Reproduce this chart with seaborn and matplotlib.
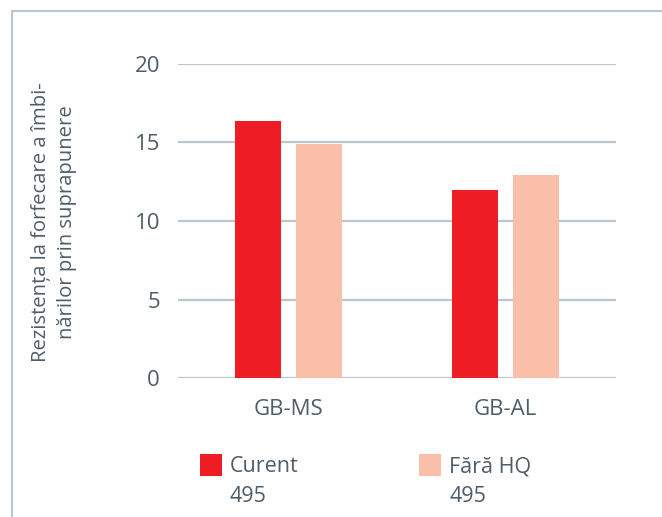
import matplotlib
matplotlib.use("Agg")
import matplotlib.pyplot as plt
import seaborn as sns
import pandas as pd
from matplotlib.patches import Rectangle
from matplotlib.lines import Line2D

categories = ["GB-MS", "GB-AL"]
series_names = ["Curent", "Fără HQ"]
series_counts = ["495", "495"]
curent = [16.4, 12.0]
fara_hq = [14.9, 12.9]
yticks = [0, 5, 10, 15, 20]
ylabel = "Rezistența la forfecare a îmbi-\nnărilor prin suprapunere"

colors = ["#ee1c25", "#f9bfa8"]
text_color = "#4e5d68"
grid_color = "#bcc6ce"

df = pd.DataFrame({
    "cat": categories * 2,
    "series": [series_names[0]] * 2 + [series_names[1]] * 2,
    "value": curent + fara_hq,
})

sns.set_theme(style="white")
plt.rcParams["font.family"] = ["Open Sans", "DejaVu Sans"]

W, H = 662, 517
fig = plt.figure(figsize=(W / 100, H / 100), dpi=100)
ax = fig.add_axes([178 / W, 1 - 378 / H, (616 - 178) / W, (378 - 64) / H])

sns.barplot(data=df, x="cat", y="value", hue="series", order=categories,
            hue_order=series_names, palette=colors, width=0.565, gap=0.245,
            saturation=1, legend=False, ax=ax, zorder=3, linewidth=0)

ax.set_xlim(-0.512, 1.512)
ax.set_ylim(0, 20)
ax.set_yticks(yticks)
ax.set_yticklabels([str(t) for t in yticks])
ax.yaxis.grid(True, color=grid_color, linewidth=1.6, zorder=0)
ax.set_axisbelow(True)
for s in ax.spines.values():
    s.set_visible(False)
ax.tick_params(axis="both", length=0, labelsize=16, labelcolor=text_color)
ax.tick_params(axis="y", pad=13)
ax.tick_params(axis="x", pad=15)
ax.set_xlabel("")
ax.set_ylabel("")

fig.text(54 / W, 1 - 222 / H, ylabel, rotation=90, ha="center", va="center",
         multialignment="center", fontsize=14.6, color=text_color,
         linespacing=1.45)

# frame lines
fig.add_artist(Line2D([11.5 / W, 11.5 / W], [0, 1 - 11 / H], color="#b8c7d3",
                      linewidth=1.5, transform=fig.transFigure))
fig.add_artist(Line2D([11.5 / W, 1], [1 - 11 / H, 1 - 11 / H], color="#b8c7d3",
                      linewidth=1.5, transform=fig.transFigure))

# legend
leg_x = [200, 419]
for i, name in enumerate(series_names):
    x0 = leg_x[i]
    fig.add_artist(Rectangle((x0 / W, 1 - 476 / H), 22 / W, 22 / H,
                             transform=fig.transFigure, color=colors[i], lw=0))
    fig.text((x0 + 30) / W, 1 - 472 / H, name, ha="left", va="baseline",
             fontsize=15.5, color=text_color)
    fig.text((x0 + 30) / W, 1 - 502 / H, series_counts[i], ha="left",
             va="baseline", fontsize=15.5, color=text_color)

fig.savefig("out.png", dpi=100)
